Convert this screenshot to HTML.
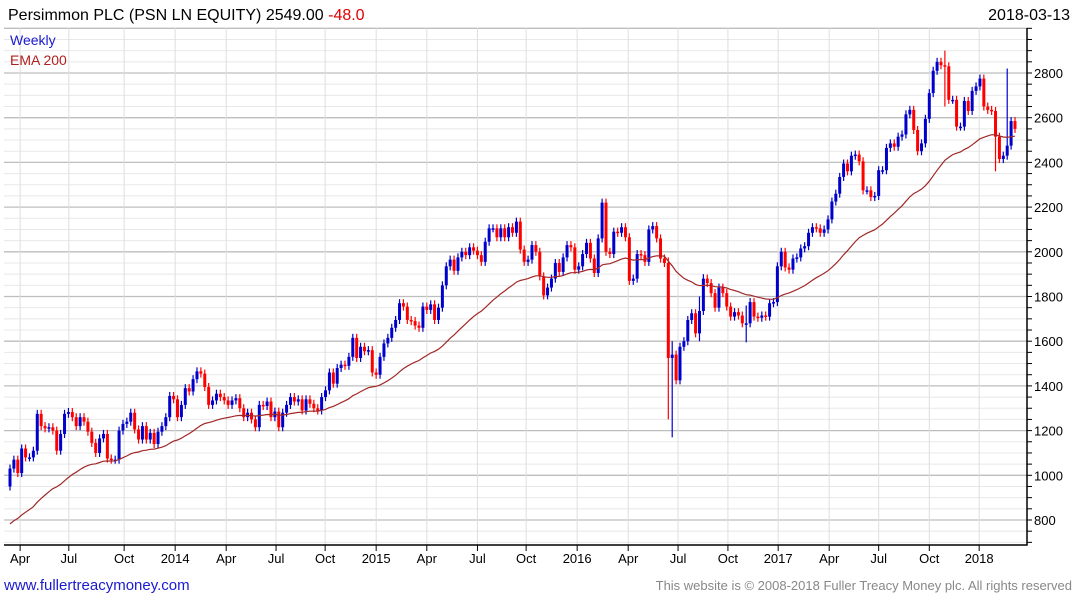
<!DOCTYPE html>
<html><head><meta charset="utf-8"><style>
body{margin:0;background:#fff;font-family:"Liberation Sans",sans-serif}
svg text{font-family:"Liberation Sans",sans-serif}
</style></head><body>
<svg id="chart" width="1075" height="600">
<g id="grid"></g><g id="marks"></g><g id="axes"></g>
<text x="8" y="20" font-size="16" fill="#000">Persimmon PLC (PSN LN EQUITY) 2549.00 <tspan fill="#e00000">-48.0</tspan></text>
<text x="1070" y="20" font-size="16" text-anchor="end" fill="#000">2018-03-13</text>
<text x="10" y="45" font-size="14" fill="#1a1ad0">Weekly</text>
<text x="10" y="65" font-size="14" fill="#b02020">EMA 200</text>
<text x="4" y="590" font-size="15" fill="#1a1ad0">www.fullertreacymoney.com</text>
<text x="1072" y="590" font-size="13" text-anchor="end" fill="#888">This website is © 2008-2018 Fuller Treacy Money plc. All rights reserved</text>
</svg>
<script>
const closes=[1030,1070,1010,1120,1080,1080,1110,1275,1220,1210,1215,1200,1110,1185,1275,1283,1260,1220,1260,1240,1195,1145,1100,1165,1185,1075,1070,1070,1200,1230,1240,1280,1205,1160,1220,1160,1190,1140,1195,1220,1260,1355,1340,1260,1315,1390,1375,1430,1465,1455,1395,1315,1335,1365,1350,1335,1315,1335,1345,1300,1260,1280,1250,1215,1315,1310,1330,1260,1285,1215,1280,1315,1350,1330,1340,1290,1340,1320,1300,1290,1350,1380,1460,1410,1480,1495,
1490,1530,1615,1525,1575,1555,1560,1460,1450,1530,1590,1615,1660,1695,1770,1755,1695,1690,1670,1660,1755,1740,1765,1695,1750,1850,1935,1965,1915,1975,2000,1985,2020,2005,1985,1955,2045,2105,2105,2065,2105,2065,2110,2085,2135,2010,1955,1965,2030,2000,1890,1805,1840,1880,1950,1910,1975,2030,2020,1920,1935,1990,2040,1970,1905,2060,2220,2000,1990,2090,2085,2110,2065,1870,1880,1990,1985,1955,2100,2115,2060,1970,1950,1525,1540,1425,1575,1600,1695,
1725,1635,1735,1880,1860,1815,1750,1840,1815,1755,1710,1730,1715,1680,1680,1775,1710,1705,1715,1710,1770,1775,1935,2000,1930,1920,1970,1975,2015,2025,2085,2110,2105,2085,2100,2145,2225,2260,2335,2395,2360,2430,2435,2405,2275,2275,2245,2250,2365,2365,2465,2485,2470,2515,2525,2615,2635,2545,2450,2485,2595,2710,2810,2850,2835,2830,2680,2680,2560,2560,2675,2630,2720,2740,2775,2650,2635,2630,2515,2415,2430,2475,2585,2550];
const firstOpen=950;
const spikeIdx=[83,169,170,171,177,178,189,240,253,256];
const spikeHigh=[1460,1975,1600,1540,1800,1900,1760,2900,2500,2820];
const spikeLow=[1400,1250,1170,1410,1600,1800,1595,2650,2360,2460];
const yTicks=[800,1000,1200,1400,1600,1800,2000,2200,2400,2600,2800];
const xLabels=["Apr","Jul","Oct","2014","Apr","Jul","Oct","2015","Apr","Jul","Oct","2016","Apr","Jul","Oct","2017","Apr","Jul","Oct","2018"];
const xLabelWeek=[2.6,15.1,29.3,42.4,55.5,68.3,80.9,94,107,120,132.5,145.6,158.7,171.5,184.3,197.2,210.3,223,236,248.8];
const emaSeed=770, emaPeriod=40;

const NS="http://www.w3.org/2000/svg";
const L=4,R=1027,T=28,B=545;
const y=p=>520-(p-800)*44.7/200;
const x=i=>10+i*(1005/(closes.length-1));
function mk(tag,attrs,parent){const e=document.createElementNS(NS,tag);for(const k in attrs)e.setAttribute(k,attrs[k]);document.getElementById(parent).appendChild(e);return e;}
for(let p=700;p<=3000;p+=50){const yy=y(p);if(yy<T||yy>B)continue;
 const g=mk('line',{x1:L,x2:R,y1:yy,y2:yy,stroke:p%200===0?'#bdbdbd':'#e8e8e8','stroke-width':p%200===0?1.3:1},'grid');
 
 
 const t=mk('line',{x1:R,x2:R+5,y1:yy,y2:yy,stroke:'#000'},'axes');
 
 }
xLabelWeek.forEach((w,k)=>{const xx=x(w);
 const g=mk('line',{x1:xx,x2:xx,y1:T,y2:B,stroke:'#dedede'},'grid');
 
 
 const t=mk('line',{x1:xx,x2:xx,y1:B,y2:B+6,stroke:'#000'},'axes');
 
 
 const tx=mk('text',{x:xx,y:563,'font-size':13,'text-anchor':'middle',fill:'#000'},'axes');tx.textContent=xLabels[k];
 
 });
yTicks.forEach(p=>{const tx=mk('text',{x:1034,y:y(p)+5,'font-size':13,fill:'#000'},'axes');tx.textContent=p;
 
 });
const ax=mk('path',{d:`M${L} ${B}H${R}V${T}`,stroke:'#000',fill:'none','stroke-width':1.5},'axes');


let prev=firstOpen;
closes.forEach((c,i)=>{const o=prev;prev=c;
 let hi=Math.max(o,c)+18,lo=Math.min(o,c)-18;
 const s=spikeIdx.indexOf(i);if(s>=0){hi=Math.max(hi,spikeHigh[s]);lo=Math.min(lo,spikeLow[s]);}
 const col=c>=o?'#0000cc':'#ff0000';const xx=x(i);
 const w=mk('line',{x1:xx,x2:xx,y1:y(hi),y2:y(lo),stroke:col,'stroke-width':1.2},'marks');
 
 
 const top=y(Math.max(o,c)),h=Math.max(1.5,y(Math.min(o,c))-top);
 const r=mk('rect',{x:xx-1.5,y:top,width:3,height:h,fill:col},'marks');
 
 });
let e=emaSeed;const a=2/(emaPeriod+1);let d='';
closes.forEach((c,i)=>{e=e+a*(c-e);d+=(i?'L':'M')+x(i).toFixed(1)+' '+y(e).toFixed(1);});
const ln=mk('path',{d:d,stroke:'#a02828',fill:'none','stroke-width':1.2},'marks');


</script>
</body></html>
